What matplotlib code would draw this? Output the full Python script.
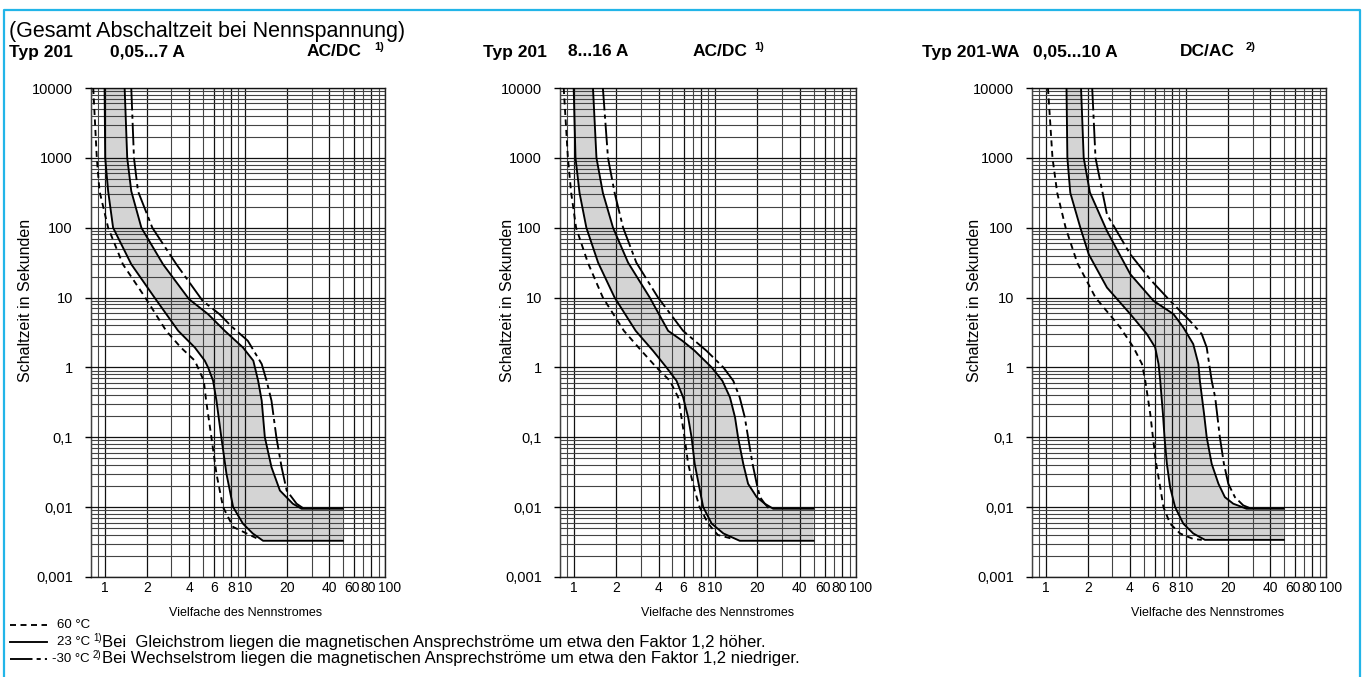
import matplotlib
matplotlib.use('Agg')
import matplotlib.pyplot as plt
import matplotlib.transforms as mtransforms
import numpy as np
from matplotlib.ticker import LogLocator, FixedLocator, NullFormatter
from matplotlib.lines import Line2D

plt.rcParams['font.family'] = ['Liberation Sans', 'DejaVu Sans']

# ---------------- data ----------------
ytick_vals = [0.001, 0.01, 0.1, 1, 10, 100, 1000, 10000]
ytick_labels = ['0,001', '0,01', '0,1', '1', '10', '100', '1000', '10000']
xtick_vals = [1, 2, 4, 6, 8, 10, 20, 40, 60, 80, 100]
xtick_labels = ['1', '2', '4', '6', '8', '10', '20', '40', '60', '80', '100']

titles = [('Typ 201', '0,05...7 A', 'AC/DC', '1)'),
          ('Typ 201', '8...16 A', 'AC/DC', '1)'),
          ('Typ 201-WA', '0,05...10 A', 'DC/AC', '2)')]

# Panel 1: Typ 201 0,05...7 A
p1_hot_x = [0.83, 0.88, 0.92, 1.06, 1.35, 1.95, 2.75, 3.5, 4.4, 5.1, 5.3, 5.78, 6.28, 7.0, 8.26, 12.1]
p1_hot_t = [10000, 1000, 334, 100, 30, 10, 3.34, 1.93, 1.25, 0.645, 0.334, 0.1, 0.03, 0.01, 0.0052, 0.0036]
p1_min_x = [1.0, 1.01, 1.06, 1.15, 1.55, 2.27, 3.35, 4.4, 5.18, 5.47, 5.94, 6.28, 6.8, 7.4, 8.26, 9.7, 11.4, 13.5, 50]
p1_min_t = [10000, 1000, 334, 100, 30, 10, 3.34, 1.93, 1.25, 1.0, 0.645, 0.334, 0.1, 0.03, 0.01, 0.0058, 0.0042, 0.0033, 0.0033]
p1_max_x = [1.39, 1.45, 1.55, 1.83, 2.61, 4.0, 5.47, 7.2, 9.7, 11.5, 12.45, 13.2, 13.9, 15.5, 17.8, 22, 25.4, 50]
p1_max_t = [10000, 1000, 334, 100, 30, 9.5, 5.79, 3.34, 1.93, 1.25, 0.645, 0.334, 0.1, 0.0373, 0.0173, 0.0112, 0.0095, 0.0095]
p1_cold_x = [1.55, 1.62, 1.73, 2.19, 3.25, 5.0, 6.6, 8.0, 10.5, 13.2, 14.3, 15.5, 16.8, 18.3, 19.9, 23.4, 26]
p1_cold_t = [10000, 1000, 334, 100, 30, 9.0, 5.79, 3.9, 2.41, 1.12, 0.645, 0.334, 0.1, 0.0373, 0.0173, 0.0112, 0.0097]

# Panel 2: Typ 201 8...16 A
p2_hot_x = [0.85, 0.91, 0.96, 1.04, 1.26, 1.61, 2.27, 3.02, 3.86, 4.8, 5.5, 5.8, 6.1, 6.47, 7.2, 7.8, 8.97, 10.5, 13.5]
p2_hot_t = [10000, 1000, 316, 100, 31.6, 10, 3.34, 1.73, 1.0, 0.645, 0.373, 0.193, 0.1, 0.0417, 0.0173, 0.01, 0.0058, 0.004, 0.0035]
p2_min_x = [1.0, 1.03, 1.10, 1.23, 1.49, 1.95, 2.75, 3.65, 4.54, 5.35, 5.96, 6.47, 6.84, 7.2, 7.84, 8.27, 9.5, 11.5, 15, 50]
p2_min_t = [10000, 1000, 316, 100, 31.6, 10, 3.34, 1.73, 1.0, 0.645, 0.373, 0.193, 0.1, 0.0417, 0.0173, 0.01, 0.0058, 0.0042, 0.0033, 0.0033]
p2_max_x = [1.37, 1.45, 1.61, 1.9, 2.43, 3.46, 4.67, 5.9, 7.2, 9.5, 11.3, 12.8, 13.9, 14.6, 15.9, 17.2, 19.8, 22.6, 25.9, 50]
p2_max_t = [10000, 1000, 316, 100, 31.6, 10, 3.34, 2.4, 1.73, 1.0, 0.645, 0.373, 0.193, 0.1, 0.0417, 0.0216, 0.0139, 0.0112, 0.0095, 0.0095]
p2_cold_x = [1.61, 1.75, 1.95, 2.24, 2.78, 3.96, 5.96, 8.73, 11.5, 13.5, 15.0, 16.3, 17.2, 18.5, 19.8, 20.9, 22.6, 24]
p2_cold_t = [10000, 1000, 316, 100, 31.6, 10, 3.34, 1.73, 1.0, 0.645, 0.373, 0.193, 0.1, 0.0417, 0.0216, 0.0139, 0.0112, 0.0097]

# Panel 3: Typ 201-WA 0,05...10 A
p3_hot_x = [1.04, 1.12, 1.21, 1.39, 1.68, 2.27, 2.6, 3.41, 4.24, 4.87, 5.14, 5.58, 5.83, 6.15, 6.57, 6.93, 7.73, 9.1, 11.3, 13]
p3_hot_t = [10000, 1000, 316, 100, 31.6, 10, 7.2, 3.73, 1.93, 1.12, 0.645, 0.216, 0.1, 0.0417, 0.0193, 0.01, 0.0058, 0.0042, 0.0035, 0.0034]
p3_min_x = [1.41, 1.43, 1.5, 1.77, 2.03, 2.74, 4.02, 5.28, 6.05, 6.39, 6.57, 6.87, 7.05, 7.33, 7.73, 8.39, 9.6, 11.3, 13.7, 50]
p3_min_t = [10000, 1000, 316, 100, 41.7, 13.9, 5.8, 3.0, 1.93, 1.12, 0.645, 0.216, 0.1, 0.0417, 0.0193, 0.01, 0.0058, 0.0042, 0.0034, 0.0034]
p3_max_x = [1.79, 1.87, 2.07, 2.74, 4.02, 5.89, 8.17, 9.61, 11.3, 12.3, 12.6, 13.5, 14.1, 15.3, 17.1, 19.0, 21.8, 27.1, 50]
p3_max_t = [10000, 1000, 320, 89.7, 21.6, 8.97, 5.8, 3.73, 2.16, 1.12, 0.645, 0.216, 0.1, 0.0417, 0.0216, 0.0139, 0.0112, 0.0095, 0.0095]
p3_cold_x = [2.15, 2.27, 2.74, 4.02, 5.6, 7.74, 10.7, 13.0, 14.1, 15.3, 16.2, 17.5, 18.7, 20.1, 22.4, 25.7, 28.6]
p3_cold_t = [10000, 1000, 155, 41.7, 18, 8.97, 4.64, 3.0, 1.93, 0.645, 0.373, 0.1, 0.0417, 0.0216, 0.0139, 0.0106, 0.0097]

panels = [
    (p1_hot_x, p1_hot_t, p1_min_x, p1_min_t, p1_max_x, p1_max_t, p1_cold_x, p1_cold_t),
    (p2_hot_x, p2_hot_t, p2_min_x, p2_min_t, p2_max_x, p2_max_t, p2_cold_x, p2_cold_t),
    (p3_hot_x, p3_hot_t, p3_min_x, p3_min_t, p3_max_x, p3_max_t, p3_cold_x, p3_cold_t),
]

# ---------------- layout ----------------
W, H = 1365, 677
fig = plt.figure(figsize=(W / 100, H / 100), dpi=100)
fig.patch.set_facecolor('white')


def fx(x):
    return x / W


def fy(y):
    return 1 - y / H


axes_px = [(91, 385), (560, 856), (1032, 1326)]
top_px, bot_px = 88, 577
ylabel_x = [33, 515, 982]
xlabel_cx = [246, 718, 1208]
title_x = [(9, 110, 307, 374), (483, 568, 693, 754), (922, 1033, 1180, 1246)]
xlabel_shift = {'60': -2, '80': -3, '100': 5}

dash_hot = (0, (3.2, 2.4))
dash_cold = (0, (12, 2.2, 2.2, 2.2))
LW = 1.35
fill_col = '#d4d4d4'

for i, (l, r) in enumerate(axes_px):
    ax = fig.add_axes([fx(l), fy(bot_px), (r - l) / W, (bot_px - top_px) / H])
    hx, ht, mnx, mnt, mxx, mxt, cx, ct = panels[i]
    ax.set_xscale('log')
    ax.set_yscale('log')
    ax.set_xlim(0.8, 100)
    ax.set_ylim(0.001, 10000)

    # band between the 23 °C limits
    ax.fill(np.concatenate([mnx, mxx[::-1]]), np.concatenate([mnt, mxt[::-1]]),
            color=fill_col, lw=0, zorder=1)
    ax.plot(mnx, mnt, color='black', lw=LW, zorder=4, solid_joinstyle='round')
    ax.plot(mxx, mxt, color='black', lw=LW, zorder=4, solid_joinstyle='round')
    ax.plot(hx, ht, color='black', lw=LW, ls=dash_hot, zorder=4)
    ax.plot(cx, ct, color='black', lw=LW, ls=dash_cold, zorder=4)

    # ticks
    ax.xaxis.set_major_locator(FixedLocator(xtick_vals))
    ax.set_xticklabels(xtick_labels)
    ax.xaxis.set_minor_locator(LogLocator(base=10, subs=np.arange(1, 10), numticks=20))
    ax.xaxis.set_minor_formatter(NullFormatter())
    ax.yaxis.set_major_locator(FixedLocator(ytick_vals))
    ax.set_yticklabels(ytick_labels)
    ax.yaxis.set_minor_locator(LogLocator(base=10, subs=np.arange(2, 10), numticks=20))
    ax.yaxis.set_minor_formatter(NullFormatter())
    ax.tick_params(axis='x', which='both', length=0, pad=3, labelsize=10)
    ax.tick_params(axis='y', which='major', length=4, width=1, pad=9, labelsize=10.5, direction='out')
    ax.tick_params(axis='y', which='minor', length=0)
    for lab in ax.get_xticklabels():
        d = xlabel_shift.get(lab.get_text(), 0)
        if d:
            lab.set_transform(lab.get_transform() +
                              mtransforms.ScaledTranslation(d / 100, 0, fig.dpi_scale_trans))

    ax.grid(True, which='minor', color='#444444', lw=0.8, zorder=2)
    ax.grid(True, which='major', color='#111111', lw=0.9, zorder=2)
    ax.set_axisbelow(False)
    for s in ax.spines.values():
        s.set_linewidth(1.0)
        s.set_color('#222222')

    ax.set_ylabel('Schaltzeit in Sekunden', fontsize=11.5)
    ax.yaxis.set_label_coords((ylabel_x[i] - l) / (r - l), (bot_px - 300) / (bot_px - top_px))
    ax.set_xlabel('Vielfache des Nennstromes', fontsize=9)
    ax.xaxis.set_label_coords((xlabel_cx[i] - l) / (r - l), -(607 - bot_px) / (bot_px - top_px))

    # headers
    t1, t2, t3, sup = titles[i]
    x1, x2, x3, x4 = title_x[i]
    for xx, tt in ((x1, t1), (x2, t2), (x3, t3)):
        fig.text(fx(xx), fy(52), tt, fontsize=12.5, fontweight='bold', va='center', ha='left')
    fig.text(fx(x4), fy(47), sup, fontsize=8, fontweight='bold', va='center', ha='left')

fig.text(fx(9), fy(32), '(Gesamt Abschaltzeit bei Nennspannung)', fontsize=15.5,
         va='center', ha='left')

# legend
leg_y = [625, 642, 659]
leg_styles = [dash_hot, '-', dash_cold]
leg_labels = ['60 °C', '23 °C', '-30 °C']
for yy, st, lab in zip(leg_y, leg_styles, leg_labels):
    fig.add_artist(Line2D([fx(10), fx(47)], [fy(yy), fy(yy)], color='black', lw=LW, ls=st,
                          transform=fig.transFigure))
    fig.text(fx(90), fy(yy), lab, fontsize=9.5, va='center', ha='right')

fig.text(fx(93), fy(638), '1)', fontsize=7, va='center', ha='left')
fig.text(fx(102), fy(642), 'Bei  Gleichstrom liegen die magnetischen Ansprechströme um etwa den Faktor 1,2 höher.',
         fontsize=12, va='center', ha='left')
fig.text(fx(93), fy(655), '2)', fontsize=7, va='center', ha='left')
fig.text(fx(102), fy(659), 'Bei Wechselstrom liegen die magnetischen Ansprechströme um etwa den Faktor 1,2 niedriger.',
         fontsize=12, va='center', ha='left')

# cyan frame
frame_col = '#22b5e8'
fig.add_artist(Line2D([fx(4), fx(4), fx(1360), fx(1360)], [fy(677), fy(10), fy(10), fy(677)],
                      color=frame_col, lw=1.6, transform=fig.transFigure))

fig.savefig('out.png', dpi=100)
